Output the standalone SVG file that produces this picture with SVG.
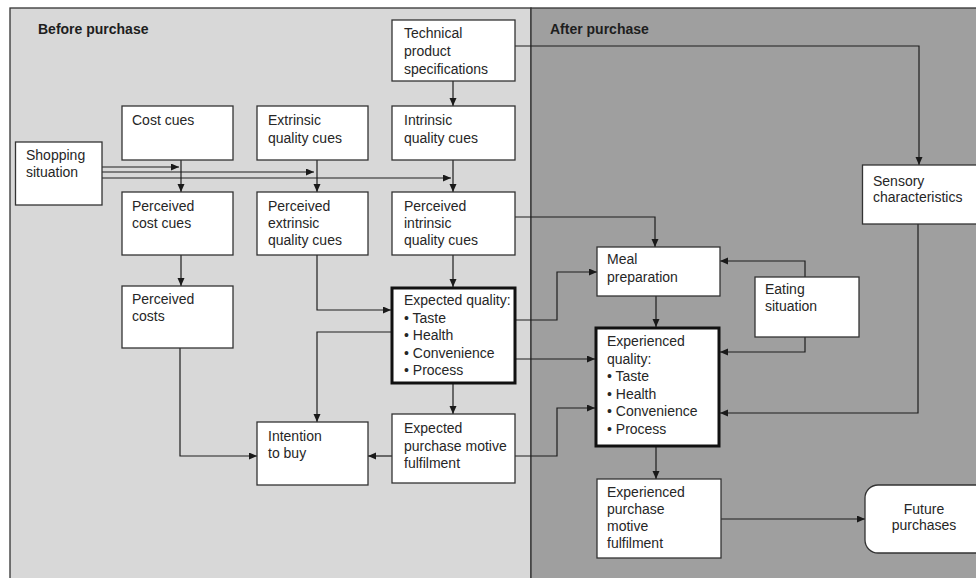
<svg xmlns="http://www.w3.org/2000/svg" width="976" height="578" viewBox="0 0 976 578">
<defs>
<marker id="ah" markerUnits="userSpaceOnUse" markerWidth="9" markerHeight="8" refX="8" refY="3.5" orient="auto">
<path d="M0,0 L8,3.5 L0,7 z" fill="#1a1a1a"/>
</marker>
<style>
.box{fill:#fff;stroke:#333;stroke-width:1.3}
.thick{fill:#fff;stroke:#111;stroke-width:3}
.t{font-family:"Liberation Sans",Arial,sans-serif;font-size:14px;fill:#262626}
.h{font-family:"Liberation Sans",Arial,sans-serif;font-size:14px;font-weight:bold;fill:#1e1e1e}
.e{fill:none;stroke:#1e1e1e;stroke-width:1.2;marker-end:url(#ah)}
</style>
</defs>
<rect x="0" y="0" width="976" height="578" fill="#fff"/>
<g id="panels">
<rect x="10" y="8" width="521" height="580" fill="#d8d8d8" stroke="#333" stroke-width="1.3"/>
<rect x="531" y="8" width="460" height="580" fill="#9f9f9f" stroke="#333" stroke-width="1.3"/>
<text class="h" x="38" y="34">Before purchase</text>
<text class="h" x="550" y="34">After purchase</text>
</g>
<g id="connectors">
<path class="e" d="M453,81 V106"/>
<path class="e" d="M515,46 H919 V165"/>
<path class="e" d="M102,167 H179"/>
<path class="e" d="M102,172 H314"/>
<path class="e" d="M102,178 H451"/>
<path class="e" d="M181,160 V192"/>
<path class="e" d="M317,160 V192"/>
<path class="e" d="M453,160 V192"/>
<path class="e" d="M181,255 V286"/>
<path class="e" d="M317,255 V310 H391"/>
<path class="e" d="M453,255 V287"/>
<path class="e" d="M515,217 H655 V247"/>
<path class="e" d="M516,320 H557 V272 H597"/>
<path class="e" d="M516,359 H595"/>
<path class="e" d="M391,332 H317 V422"/>
<path class="e" d="M453,384 V414"/>
<path class="e" d="M180,348 V456 H257"/>
<path class="e" d="M392,456 H368"/>
<path class="e" d="M515,456 H557 V408 H595"/>
<path class="e" d="M805,277 V261 H720"/>
<path class="e" d="M805,337 V352 H720"/>
<path class="e" d="M656,296 V327"/>
<path class="e" d="M918,224 V413 H720"/>
<path class="e" d="M656,447 V479"/>
<path class="e" d="M721,519 H865"/>
</g>
<g id="technical">
<rect class="box" x="392" y="20" width="123" height="61"/>
<text class="t" x="404" y="38">Technical</text>
<text class="t" x="404" y="56">product</text>
<text class="t" x="404" y="74">specifications</text>
</g>
<g id="cost-cues">
<rect class="box" x="122" y="106" width="111" height="54"/>
<text class="t" x="132" y="125">Cost cues</text>
</g>
<g id="extrinsic-cues">
<rect class="box" x="257" y="106" width="111" height="54"/>
<text class="t" x="268" y="125">Extrinsic</text>
<text class="t" x="268" y="142.5">quality cues</text>
</g>
<g id="intrinsic-cues">
<rect class="box" x="392" y="106" width="123" height="54"/>
<text class="t" x="404" y="125">Intrinsic</text>
<text class="t" x="404" y="142.5">quality cues</text>
</g>
<g id="shopping">
<rect class="box" x="15.5" y="142" width="86.5" height="63"/>
<text class="t" x="26" y="160">Shopping</text>
<text class="t" x="26" y="177">situation</text>
</g>
<g id="perceived-cost-cues">
<rect class="box" x="122" y="192" width="111" height="63"/>
<text class="t" x="132" y="211">Perceived</text>
<text class="t" x="132" y="228">cost cues</text>
</g>
<g id="perceived-extrinsic">
<rect class="box" x="257" y="192" width="111" height="63"/>
<text class="t" x="268" y="211">Perceived</text>
<text class="t" x="268" y="228">extrinsic</text>
<text class="t" x="268" y="245">quality cues</text>
</g>
<g id="perceived-intrinsic">
<rect class="box" x="392" y="192" width="123" height="63"/>
<text class="t" x="404" y="211">Perceived</text>
<text class="t" x="404" y="228">intrinsic</text>
<text class="t" x="404" y="245">quality cues</text>
</g>
<g id="perceived-costs">
<rect class="box" x="122" y="286" width="111" height="62"/>
<text class="t" x="132" y="303.5">Perceived</text>
<text class="t" x="132" y="320.5">costs</text>
</g>
<g id="expected-quality">
<rect class="thick" x="392" y="288" width="123" height="95"/>
<text class="t" x="404" y="305">Expected quality:</text>
<text class="t" x="404" y="322.5">• Taste</text>
<text class="t" x="404" y="340">• Health</text>
<text class="t" x="404" y="357.5">• Convenience</text>
<text class="t" x="404" y="375">• Process</text>
</g>
<g id="intention">
<rect class="box" x="257" y="422" width="111" height="63"/>
<text class="t" x="268" y="441">Intention</text>
<text class="t" x="268" y="458">to buy</text>
</g>
<g id="expected-purchase">
<rect class="box" x="392" y="414" width="123" height="69"/>
<text class="t" x="404" y="433">Expected</text>
<text class="t" x="404" y="450.5">purchase motive</text>
<text class="t" x="404" y="468">fulfilment</text>
</g>
<g id="meal">
<rect class="box" x="597" y="247" width="123" height="49"/>
<text class="t" x="607" y="264">Meal</text>
<text class="t" x="607" y="281.5">preparation</text>
</g>
<g id="eating">
<rect class="box" x="755" y="277" width="104" height="60"/>
<text class="t" x="765" y="294">Eating</text>
<text class="t" x="765" y="311">situation</text>
</g>
<g id="sensory">
<rect class="box" x="862.5" y="165" width="120" height="59"/>
<text class="t" x="873" y="186">Sensory</text>
<text class="t" x="873" y="202">characteristics</text>
</g>
<g id="experienced-quality">
<rect class="thick" x="596" y="328" width="123" height="118"/>
<text class="t" x="607" y="346">Experienced</text>
<text class="t" x="607" y="363.5">quality:</text>
<text class="t" x="607" y="381">• Taste</text>
<text class="t" x="607" y="398.5">• Health</text>
<text class="t" x="607" y="416">• Convenience</text>
<text class="t" x="607" y="433.5">• Process</text>
</g>
<g id="experienced-purchase">
<rect class="box" x="597" y="479" width="124" height="79"/>
<text class="t" x="607" y="496.5">Experienced</text>
<text class="t" x="607" y="513.5">purchase</text>
<text class="t" x="607" y="530.5">motive</text>
<text class="t" x="607" y="548">fulfilment</text>
</g>
<g id="future">
<rect class="box" x="865" y="485" width="125" height="68" rx="13" ry="13"/>
<text class="t" x="924" y="513.5" text-anchor="middle">Future</text>
<text class="t" x="924" y="530" text-anchor="middle">purchases</text>
</g>
</svg>
